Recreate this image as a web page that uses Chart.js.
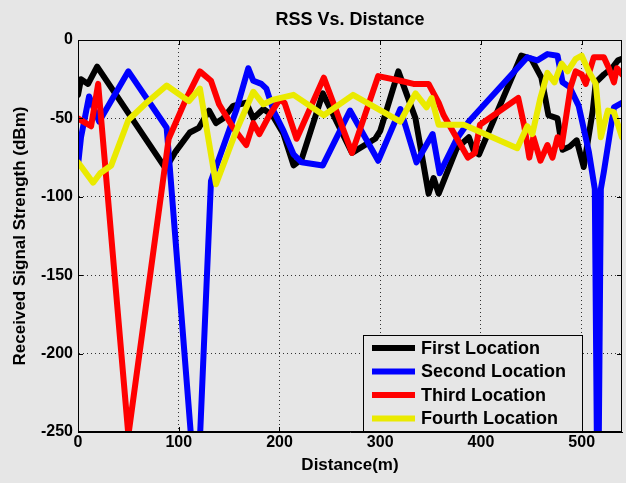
<!DOCTYPE html>
<html><head><meta charset="utf-8">
<script src="https://cdn.jsdelivr.net/npm/chart.js@4"></script>
<style>html,body{margin:0;padding:0;background:#e6e6e6;overflow:hidden}</style>
</head><body><canvas id="c" width="626" height="483"></canvas>
<script>
const titleText = 'RSS Vs. Distance';
const xTitle = 'Distance(m)';
const yTitle = 'Received Signal Strength (dBm)';
const seriesNames = ['First Location', 'Second Location', 'Third Location', 'Fourth Location'];
const xTicks = [0, 100, 200, 300, 400, 500];
const yTicks = [0, -50, -100, -150, -200, -250];

const firstX = [0,3,10,19,87,97,111,120,130,137,144,154,167,174,184,193,204,214,222,243,272,295,300,318,335,348,353,358,376,388,393,398,440,450,460,467,476,481,488,495,502,511,514,522,530,536,540];
const firstY = [-35,-25,-28,-17,-82,-71,-59,-56,-45,-53,-50,-42,-40,-50,-44,-48,-60,-80,-76,-34,-72,-63,-58,-20,-50,-98,-88,-98,-69,-62,-71,-73,-10,-12,-24,-48,-50,-70,-68,-64,-81,-45,-27,-22,-18,-13,-12];

const secondX = [0,3,11,21,50,88,118,132,147,157,169,174,182,187,194,204,214,222,243,270,298,320,336,352,359,376,388,446,456,466,476,481,488,497,507,513,516,519,522,532,540];
const secondY = [-80,-62,-36,-52,-20,-56,-300,-90,-63,-45,-18,-26,-28,-31,-45,-58,-73,-78,-80,-45,-77,-44,-78,-60,-85,-63,-52,-11,-13,-9,-10,-27,-30,-42,-71,-95,-330,-95,-84,-43,-40];

const thirdX = [0,13,20,50,90,107,121,132,140,154,167,174,180,190,200,205,217,244,272,298,320,333,348,353,358,363,387,394,399,437,443,448,452,459,466,471,476,480,489,494,500,504,512,522,527,532,535,540];
const thirdY = [-50,-55,-28,-252,-63,-38,-20,-26,-41,-56,-67,-53,-60,-48,-38,-40,-63,-24,-72,-23,-26,-28,-28,-34,-40,-48,-75,-72,-54,-37,-55,-75,-62,-77,-67,-75,-62,-68,-30,-20,-22,-28,-11,-11,-18,-27,-18,-22];

const fourthX = [0,15,22,33,50,68,88,110,121,137,157,174,184,194,214,244,273,320,335,346,351,358,383,436,446,451,459,466,473,480,486,494,500,507,514,519,526,532,540];
const fourthY = [-78,-91,-85,-80,-51,-40,-29,-39,-31,-92,-58,-33,-41,-38,-35,-48,-35,-52,-34,-43,-37,-54,-54,-69,-55,-60,-37,-21,-27,-15,-20,-12,-10,-20,-28,-62,-45,-46,-62];

const FONT = '"Liberation Sans", Arial, sans-serif';
const colors = ['#000000', '#0000ff', '#ff0000', '#eaea00'];
const xs = [firstX, secondX, thirdX, fourthX];
const ys = [firstY, secondY, thirdY, fourthY];

const datasets = seriesNames.map((name, i) => ({
  label: name,
  data: xs[i].map((x, k) => ({x: x, y: ys[i][k]})),
  borderColor: colors[i],
  backgroundColor: colors[i],
  borderWidth: 6,
  pointRadius: 0,
  fill: false,
  tension: 0,
  borderJoinStyle: 'round',
  borderCapStyle: 'round',
  clip: 0,
  order: 4 - i
}));

const boxPlugin = {
  id: 'boxTicks',
  afterDatasetsDraw(chart) {
    const {ctx, chartArea: a, scales} = chart;
    ctx.save();
    ctx.strokeStyle = '#000';
    ctx.lineWidth = 1;
    ctx.strokeRect(a.left + 0.5, a.top + 0.5, a.right - a.left - 1, a.bottom - a.top - 1);
    ctx.beginPath();
    xTicks.forEach(v => {
      const px = Math.round(scales.x.getPixelForValue(v)) + 0.5;
      ctx.moveTo(px, a.bottom); ctx.lineTo(px, a.bottom - 5);
      ctx.moveTo(px, a.top); ctx.lineTo(px, a.top + 5);
    });
    yTicks.forEach(v => {
      const py = Math.round(scales.y.getPixelForValue(v)) + 0.5;
      ctx.moveTo(a.left, py); ctx.lineTo(a.left + 5, py);
      ctx.moveTo(a.right, py); ctx.lineTo(a.right - 5, py);
    });
    ctx.stroke();
    ctx.restore();
  }
};

const legendPlugin = {
  id: 'boxLegend',
  afterDraw(chart) {
    const {ctx, chartArea: a} = chart;
    const w = 219, h = 97;
    const x0 = a.right - 40 - w, y0 = a.bottom - h;
    ctx.save();
    ctx.fillStyle = '#e6e6e6';
    ctx.fillRect(x0, y0, w, h);
    ctx.strokeStyle = '#000';
    ctx.lineWidth = 1;
    ctx.strokeRect(x0 + 0.5, y0 + 0.5, w, h - 1);
    ctx.font = 'bold 18px ' + FONT;
    ctx.textBaseline = 'middle';
    chart.data.datasets.forEach((ds, i) => {
      const cy = y0 + 13 + i * 23.5;
      ctx.strokeStyle = ds.borderColor;
      ctx.lineWidth = 6;
      ctx.beginPath();
      ctx.moveTo(x0 + 9, cy); ctx.lineTo(x0 + 52, cy);
      ctx.stroke();
      ctx.fillStyle = '#000';
      ctx.fillText(ds.label, x0 + 58, cy + 1);
    });
    ctx.restore();
  }
};

const tickFont = {family: FONT, size: 16, weight: 'bold'};

new Chart(document.getElementById('c'), {
  type: 'line',
  data: {datasets: datasets},
  plugins: [boxPlugin, legendPlugin],
  options: {
    responsive: false,
    animation: false,
    events: [],
    layout: {padding: {top: 0, left: 0, right: 4, bottom: 0}},
    plugins: {
      legend: {display: false},
      tooltip: {enabled: false},
      title: {display: true, text: titleText, fullSize: false, color: '#000',
        font: {family: FONT, size: 18, weight: 'bold', lineHeight: 1.25},
        padding: {top: 9, bottom: 8.5}}
    },
    scales: {
      x: {
        type: 'linear', min: 0, max: 540,
        afterBuildTicks: s => { s.ticks = xTicks.map(v => ({value: v})); },
        afterFit: s => { s.height = 51; },
        ticks: {color: '#000', font: tickFont, padding: 1, maxRotation: 0, autoSkip: false},
        grid: {color: '#333', lineWidth: 1, drawTicks: false},
        border: {display: true, color: '#000', dash: [1, 3]},
        title: {display: true, text: xTitle, color: '#000', font: {family: FONT, size: 17, weight: 'bold', lineHeight: 1.2}, padding: {top: 0, bottom: 7}}
      },
      y: {
        type: 'linear', min: -250, max: 0,
        afterBuildTicks: s => { s.ticks = yTicks.map(v => ({value: v})); },
        afterFit: s => { s.width = 78; },
        ticks: {color: '#000', font: tickFont, padding: 5, autoSkip: false},
        grid: {color: '#333', lineWidth: 1, drawTicks: false},
        border: {display: true, color: '#000', dash: [1, 3]},
        title: {display: true, text: yTitle, color: '#000', font: {family: FONT, size: 17, weight: 'bold', lineHeight: 1.2}, padding: {top: 10, bottom: 0}}
      }
    }
  }
});
</script>
</body></html>
